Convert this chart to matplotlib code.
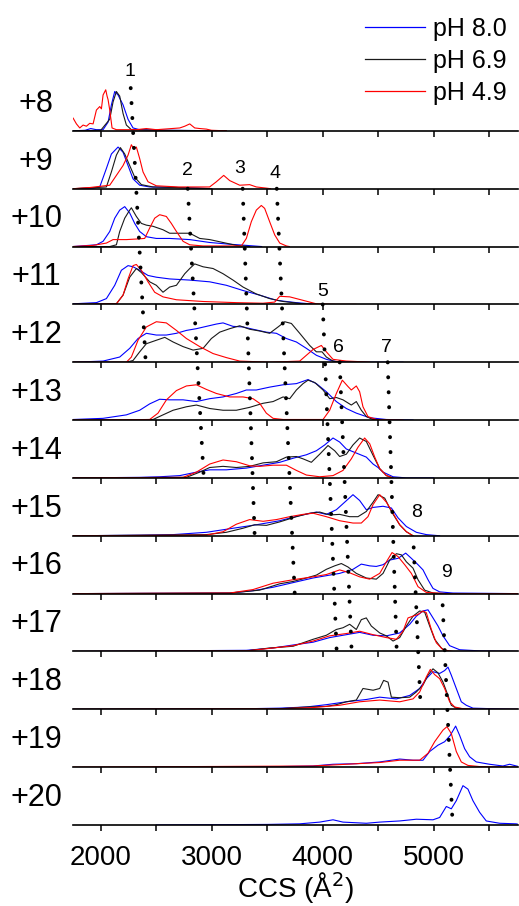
import matplotlib
matplotlib.use("Agg")
import matplotlib.pyplot as plt
from matplotlib.lines import Line2D
from matplotlib.patches import ConnectionPatch
from matplotlib.ticker import MultipleLocator

plt.rcParams["font.family"] = ["Liberation Sans", "DejaVu Sans"]

# charge states, top to bottom
charges = [8, 9, 10, 11, 12, 13, 14, 15, 16, 17, 18, 19, 20]
series_names = ["pH 8.0", "pH 6.9", "pH 4.9"]
series_colors = ["#0000ff", "#1a1a1a", "#ff0000"]

# traces as (CCS, relative intensity)
z8_blue = [(1750, 0), (1860, 0.01), (1910, 0.04), (1960, 0.02), (2021, 0.02), (2066, 0.15), (2096, 0.45),
           (2126, 0.68), (2156, 0.62), (2201, 0.45), (2246, 0.2), (2291, 0.05), (2350, 0.02), (2600, 0.01), (3130, 0)]
z8_black = [(1750, 0), (2000, 0.01), (2081, 0.2), (2111, 0.5), (2141, 0.68), (2171, 0.6), (2201, 0.3),
            (2231, 0.1), (2276, 0.02), (2500, 0.01), (3130, 0)]
z8_red = [(1751, 0.22), (1781, 0.12), (1811, 0.05), (1841, 0.1), (1871, 0.08), (1901, 0.13), (1931, 0.12),
          (1961, 0.36), (1991, 0.42), (2006, 0.38), (2021, 0.62), (2045, 0.71), (2057, 0.6), (2066, 0.54),
          (2081, 0.36), (2102, 0.05), (2141, 0.02), (2321, 0.02), (2411, 0.04), (2501, 0.02), (2712, 0.05),
          (2757, 0.08), (2802, 0.12), (2847, 0.05), (2892, 0.04), (2952, 0.03), (2997, 0.01), (3132, 0)]

z9_blue = [(1750, 0), (1931, 0.01), (1991, 0.03), (2051, 0.35), (2096, 0.6), (2156, 0.72), (2201, 0.63),
           (2246, 0.4), (2291, 0.17), (2351, 0.06), (2441, 0.03), (2700, 0.02), (3000, 0)]
z9_black = [(1750, 0), (2051, 0.03), (2096, 0.29), (2141, 0.58), (2177, 0.71), (2216, 0.6), (2261, 0.4),
            (2306, 0.2), (2366, 0.07), (2471, 0.03), (2700, 0.02), (3000, 0)]
z9_red = [(1750, 0), (1901, 0.02), (2081, 0.06), (2141, 0.23), (2201, 0.4), (2246, 0.58), (2276, 0.76),
          (2297, 0.69), (2321, 0.72), (2351, 0.52), (2381, 0.29), (2426, 0.12), (2501, 0.05), (2700, 0.03),
          (2981, 0.03), (3042, 0.12), (3108, 0.23), (3162, 0.14), (3252, 0.06), (3342, 0.07), (3402, 0.03),
          (3492, 0.01), (3530, 0)]

z10_blue = [(1751, 0), (1961, 0.03), (2021, 0.09), (2081, 0.26), (2126, 0.49), (2171, 0.63), (2216, 0.69),
            (2261, 0.58), (2306, 0.4), (2351, 0.26), (2411, 0.17), (2501, 0.14), (2621, 0.14), (2802, 0.12),
            (2982, 0.07), (3162, 0.04), (3312, 0.02), (3450, 0)]
z10_black = [(1750, 0), (2081, 0), (2141, 0.03), (2171, 0.26), (2216, 0.49), (2261, 0.63), (2276, 0.67),
             (2321, 0.52), (2366, 0.4), (2411, 0.37), (2471, 0.35), (2561, 0.29), (2621, 0.23), (2712, 0.23),
             (2802, 0.23), (2892, 0.14), (2982, 0.12), (3102, 0.07), (3222, 0.02), (3342, 0)]
z10_red = [(1751, 0), (1931, 0.02), (2051, 0.06), (2111, 0.12), (2231, 0.12), (2321, 0.13), (2396, 0.14),
           (2441, 0.32), (2486, 0.49), (2531, 0.55), (2591, 0.52), (2636, 0.4), (2682, 0.26), (2742, 0.09),
           (2802, 0.03), (2922, 0.01), (3267, 0.01), (3312, 0.14), (3357, 0.43), (3402, 0.63), (3447, 0.71),
           (3477, 0.66), (3522, 0.43), (3568, 0.2), (3613, 0.06), (3673, 0.01), (3700, 0)]

z11_blue = [(1751, 0.01), (1961, 0.03), (2051, 0.1), (2126, 0.33), (2186, 0.59), (2246, 0.67), (2291, 0.65),
            (2351, 0.59), (2426, 0.5), (2501, 0.47), (2621, 0.44), (2802, 0.42), (2982, 0.39), (3132, 0.33),
            (3282, 0.24), (3432, 0.16), (3583, 0.07), (3763, 0.03), (3943, 0)]
z11_black = [(1750, 0), (2141, 0.01), (2201, 0.16), (2261, 0.47), (2321, 0.62), (2366, 0.55), (2441, 0.39),
             (2501, 0.33), (2561, 0.21), (2621, 0.3), (2682, 0.33), (2757, 0.53), (2802, 0.62), (2847, 0.7),
             (2922, 0.65), (3012, 0.62), (3102, 0.53), (3192, 0.42), (3282, 0.3), (3402, 0.18), (3522, 0.1),
             (3643, 0.05), (3823, 0.01), (3900, 0)]
z11_red = [(1750, 0), (2141, 0.01), (2201, 0.16), (2246, 0.44), (2291, 0.67), (2321, 0.69), (2366, 0.59),
           (2426, 0.39), (2486, 0.21), (2561, 0.13), (2682, 0.08), (2922, 0.05), (3222, 0.03), (3462, 0.02),
           (3568, 0.04), (3613, 0.14), (3703, 0.13), (3823, 0.07), (3943, 0.01), (4123, 0), (4300, 0)]

z12_blue = [(1751, 0), (2021, 0.02), (2171, 0.09), (2261, 0.24), (2336, 0.41), (2411, 0.5), (2501, 0.47),
            (2591, 0.47), (2682, 0.5), (2772, 0.55), (2862, 0.58), (2952, 0.62), (3042, 0.66), (3102, 0.68),
            (3192, 0.62), (3282, 0.61), (3372, 0.57), (3492, 0.52), (3583, 0.5), (3673, 0.41), (3763, 0.35),
            (3853, 0.24), (3943, 0.12), (4033, 0.05), (4123, 0.01), (4424, 0), (4724, 0)]
z12_black = [(1750, 0), (2231, 0), (2291, 0.03), (2351, 0.18), (2411, 0.32), (2501, 0.38), (2577, 0.43),
             (2652, 0.35), (2742, 0.27), (2832, 0.21), (2922, 0.24), (2997, 0.41), (3072, 0.52), (3162, 0.58),
             (3252, 0.63), (3342, 0.57), (3432, 0.54), (3522, 0.5), (3598, 0.61), (3658, 0.7), (3718, 0.67),
             (3793, 0.5), (3883, 0.29), (3943, 0.18), (3994, 0.18), (4033, 0.09), (4093, 0.02), (4183, 0)]
z12_red = [(1750, 0), (2231, 0), (2276, 0.09), (2336, 0.38), (2411, 0.61), (2501, 0.7), (2591, 0.68),
           (2682, 0.55), (2772, 0.41), (2892, 0.27), (3012, 0.15), (3132, 0.08), (3252, 0.02), (3523, 0),
           (3793, 0.02), (3853, 0.12), (3913, 0.22), (3988, 0.29), (4033, 0.18), (4093, 0.05), (4213, 0.02),
           (4333, 0.01), (4424, 0)]

z13_blue = [(1751, 0.01), (2021, 0.03), (2231, 0.09), (2351, 0.17), (2441, 0.28), (2531, 0.36), (2622, 0.35),
            (2742, 0.35), (2862, 0.32), (2982, 0.37), (3102, 0.4), (3222, 0.46), (3312, 0.52), (3402, 0.52),
            (3523, 0.57), (3643, 0.61), (3763, 0.63), (3868, 0.7), (3943, 0.63), (4033, 0.49), (4123, 0.32),
            (4213, 0.2), (4303, 0.12), (4424, 0.04), (4574, 0.01), (4814, 0)]
z13_black = [(1750, 0), (2471, 0.01), (2561, 0.09), (2652, 0.17), (2772, 0.23), (2862, 0.26), (2982, 0.2),
             (3102, 0.17), (3222, 0.17), (3342, 0.22), (3462, 0.29), (3553, 0.32), (3643, 0.4), (3703, 0.37),
             (3763, 0.52), (3823, 0.63), (3868, 0.69), (3928, 0.65), (4003, 0.52), (4063, 0.37), (4123, 0.39),
             (4183, 0.35), (4258, 0.26), (4303, 0.32), (4348, 0.17), (4394, 0.06), (4454, 0.01), (4574, 0)]
z13_red = [(1750, 0), (2441, 0.01), (2516, 0.12), (2592, 0.35), (2682, 0.51), (2772, 0.59), (2862, 0.61),
           (2952, 0.53), (3042, 0.46), (3162, 0.4), (3282, 0.4), (3372, 0.37), (3432, 0.29), (3492, 0.12),
           (3553, 0.03), (3643, 0.01), (4003, 0.01), (4063, 0.17), (4123, 0.46), (4177, 0.69), (4228, 0.58),
           (4258, 0.52), (4303, 0.59), (4333, 0.49), (4363, 0.23), (4408, 0.06), (4484, 0.01), (4724, 0)]

z14_blue = [(1750, 0), (2351, 0.01), (2532, 0.02), (2712, 0.04), (2862, 0.1), (2982, 0.14), (3132, 0.14),
            (3312, 0.17), (3463, 0.22), (3613, 0.27), (3733, 0.34), (3853, 0.4), (3943, 0.47), (4018, 0.57),
            (4093, 0.69), (4153, 0.62), (4213, 0.5), (4303, 0.43), (4393, 0.36), (4454, 0.24), (4499, 0.18),
            (4544, 0.1), (4634, 0.02), (4754, 0), (5000, 0)]
z14_black = [(1750, 0), (2772, 0.01), (2892, 0.1), (2982, 0.18), (3102, 0.2), (3222, 0.18), (3342, 0.2),
             (3463, 0.26), (3583, 0.28), (3673, 0.36), (3763, 0.37), (3823, 0.33), (3898, 0.27), (3973, 0.41),
             (4048, 0.56), (4108, 0.47), (4153, 0.37), (4213, 0.41), (4273, 0.57), (4333, 0.69), (4393, 0.63),
             (4454, 0.39), (4514, 0.16), (4574, 0.04), (4634, 0)]
z14_red = [(1750, 0), (2742, 0.01), (2862, 0.1), (2982, 0.24), (3102, 0.31), (3222, 0.28), (3342, 0.21),
           (3432, 0.2), (3553, 0.22), (3673, 0.22), (3763, 0.13), (3853, 0.05), (3973, 0.02), (4093, 0.04),
           (4183, 0.13), (4258, 0.33), (4318, 0.53), (4378, 0.69), (4424, 0.59), (4469, 0.36), (4514, 0.16),
           (4574, 0.04), (4634, 0)]

z15_blue = [(1750, 0), (2351, 0.01), (2652, 0.02), (2952, 0.06), (3192, 0.13), (3402, 0.19), (3613, 0.26),
            (3793, 0.35), (3943, 0.41), (4033, 0.37), (4123, 0.45), (4198, 0.58), (4273, 0.71), (4333, 0.61),
            (4393, 0.45), (4454, 0.49), (4544, 0.51), (4619, 0.48), (4679, 0.31), (4754, 0.16), (4844, 0.06),
            (4934, 0.02), (5054, 0)]
z15_black = [(1750, 0), (2952, 0.02), (3132, 0.06), (3282, 0.13), (3387, 0.19), (3493, 0.18), (3613, 0.24),
             (3763, 0.33), (3883, 0.39), (3973, 0.41), (4063, 0.36), (4153, 0.37), (4243, 0.33), (4318, 0.33),
             (4393, 0.42), (4454, 0.58), (4499, 0.71), (4559, 0.65), (4619, 0.42), (4694, 0.19), (4754, 0.07),
             (4814, 0)]
z15_red = [(1750, 0), (2952, 0.01), (3102, 0.07), (3222, 0.2), (3342, 0.28), (3463, 0.25), (3583, 0.28),
           (3703, 0.33), (3823, 0.37), (3913, 0.39), (4033, 0.33), (4153, 0.26), (4273, 0.22), (4348, 0.22),
           (4408, 0.33), (4454, 0.54), (4514, 0.71), (4574, 0.58), (4634, 0.39), (4694, 0.19), (4754, 0.07),
           (4814, 0)]

z16_blue = [(1750, 0), (3162, 0.01), (3372, 0.05), (3553, 0.11), (3733, 0.19), (3913, 0.27), (4033, 0.31),
            (4153, 0.35), (4273, 0.42), (4348, 0.51), (4423, 0.48), (4483, 0.47), (4544, 0.5), (4604, 0.58),
            (4679, 0.61), (4748, 0.7), (4799, 0.61), (4859, 0.5), (4904, 0.41), (4949, 0.24), (4994, 0.09),
            (5054, 0.03), (5174, 0.01), (5766, 0)]
z16_black = [(1750, 0), (3162, 0.01), (3432, 0.06), (3613, 0.17), (3733, 0.21), (3853, 0.27), (3943, 0.32),
             (4033, 0.42), (4108, 0.48), (4168, 0.52), (4228, 0.46), (4303, 0.35), (4393, 0.27), (4483, 0.25),
             (4544, 0.35), (4604, 0.58), (4664, 0.69), (4709, 0.67), (4754, 0.55), (4814, 0.44), (4859, 0.24),
             (4919, 0.06), (4994, 0.01), (5100, 0)]
z16_red = [(1750, 0), (3162, 0.01), (3372, 0.07), (3553, 0.18), (3733, 0.24), (3913, 0.29), (4033, 0.33),
           (4153, 0.41), (4243, 0.36), (4333, 0.29), (4423, 0.25), (4514, 0.35), (4574, 0.55), (4625, 0.71),
           (4679, 0.64), (4739, 0.5), (4799, 0.35), (4859, 0.12), (4934, 0.02), (5114, 0), (5766, 0)]

z17_blue = [(1750, 0), (3312, 0.02), (3553, 0.06), (3763, 0.12), (3913, 0.16), (4063, 0.24), (4213, 0.29),
            (4333, 0.33), (4454, 0.28), (4574, 0.27), (4694, 0.32), (4784, 0.47), (4844, 0.61), (4904, 0.7),
            (4949, 0.72), (4994, 0.58), (5039, 0.44), (5084, 0.27), (5144, 0.1), (5234, 0.03), (5414, 0.01),
            (5766, 0)]
z17_black = [(1750, 0), (3312, 0.01), (3522, 0.06), (3733, 0.09), (3913, 0.21), (4033, 0.28), (4123, 0.38),
             (4183, 0.41), (4243, 0.47), (4303, 0.38), (4348, 0.55), (4393, 0.58), (4438, 0.44), (4514, 0.32),
             (4574, 0.27), (4634, 0.18), (4694, 0.24), (4754, 0.44), (4814, 0.61), (4874, 0.7), (4919, 0.68),
             (4964, 0.44), (5009, 0.21), (5069, 0.06), (5114, 0)]
z17_red = [(1750, 0), (3312, 0.01), (3553, 0.06), (3733, 0.1), (3913, 0.18), (4063, 0.27), (4213, 0.31),
           (4333, 0.35), (4454, 0.29), (4574, 0.24), (4664, 0.21), (4724, 0.35), (4769, 0.58), (4814, 0.61),
           (4859, 0.64), (4904, 0.7), (4934, 0.67), (4979, 0.38), (5024, 0.15), (5084, 0.03), (5174, 0), (5766, 0)]

z18_blue = [(1750, 0), (3312, 0.01), (3613, 0.02), (3853, 0.04), (4033, 0.08), (4213, 0.13), (4394, 0.17),
            (4514, 0.21), (4664, 0.18), (4784, 0.24), (4874, 0.36), (4934, 0.53), (4994, 0.65), (5054, 0.62),
            (5099, 0.67), (5129, 0.73), (5159, 0.59), (5204, 0.36), (5249, 0.13), (5294, 0.07), (5354, 0.02),
            (5534, 0.01), (5766, 0)]
z18_black = [(1750, 0), (3613, 0.01), (3853, 0.04), (4033, 0.05), (4123, 0.08), (4213, 0.13), (4303, 0.16),
             (4363, 0.36), (4454, 0.33), (4514, 0.36), (4549, 0.5), (4589, 0.47), (4619, 0.21), (4694, 0.2),
             (4784, 0.21), (4844, 0.3), (4904, 0.42), (4949, 0.59), (4994, 0.7), (5039, 0.63), (5084, 0.47),
             (5129, 0.24), (5159, 0.07), (5204, 0.02), (5324, 0)]
z18_red = [(1750, 0), (3613, 0.01), (3913, 0.03), (4153, 0.07), (4333, 0.13), (4514, 0.16), (4694, 0.13),
           (4814, 0.18), (4874, 0.3), (4934, 0.56), (4970, 0.69), (5009, 0.6), (5054, 0.53), (5099, 0.36),
           (5144, 0.13), (5189, 0.04), (5264, 0.01), (5414, 0), (5766, 0)]

z19_blue = [(2500, 0), (3613, 0.01), (3913, 0.02), (4093, 0.05), (4303, 0.06), (4514, 0.09), (4694, 0.14),
            (4814, 0.12), (4904, 0.12), (4964, 0.27), (5039, 0.38), (5099, 0.44), (5150, 0.55), (5198, 0.71),
            (5234, 0.55), (5279, 0.32), (5324, 0.18), (5384, 0.09), (5504, 0.05), (5624, 0.02), (5684, 0.05),
            (5766, 0.01)]
z19_black = []
z19_red = [(1750, 0), (3913, 0.02), (4213, 0.05), (4514, 0.08), (4694, 0.12), (4874, 0.12), (4949, 0.24),
           (5009, 0.44), (5084, 0.64), (5120, 0.7), (5159, 0.58), (5204, 0.27), (5249, 0.09), (5309, 0.03),
           (5414, 0.01), (5766, 0)]

z20_blue = [(2500, 0), (3500, 0.01), (3793, 0.02), (3973, 0.05), (4093, 0.09), (4183, 0.05), (4393, 0.03),
            (4513, 0.05), (4694, 0.07), (4844, 0.1), (4994, 0.09), (5054, 0.13), (5114, 0.32), (5159, 0.28),
            (5204, 0.42), (5264, 0.68), (5309, 0.62), (5354, 0.42), (5414, 0.22), (5474, 0.07), (5594, 0.03),
            (5744, 0.02), (5766, 0.01)]
z20_black = []
z20_red = []

# dotted guide lines: label, top charge, top height, top CCS, bottom charge, bottom CCS
guide_labels = ["1", "2", "3", "4", "5", "6", "7", "8", "9"]
guide_top_charge = [8, 9, 9, 9, 11, 12, 12, 16, 17]
guide_top_y = [0.74, 0.0, 0.0, 0.0, 0.0, 0.0, 0.0, 0.8, 0.8]
guide_top_ccs = [2270, 2784, 3279, 3586, 4000, 4153, 4586, 4820, 5081]
guide_bot_charge = [12, 14, 15, 16, 17, 17, 17, 18, 20]
guide_bot_ccs = [2405, 2928, 3387, 3748, 4126, 4261, 4667, 4883, 5171]
# where the number sits: charge panel, CCS, height
label_charge = [8, 9, 9, 9, 11, 12, 12, 15, 16]
label_ccs = [2261, 2784, 3252, 3568, 4000, 4144, 4577, 4847, 5117]
label_y = [1.02, 0.31, 0.35, 0.26, 0.22, 0.26, 0.26, 0.40, 0.36]

traces = {
    8: (z8_blue, z8_black, z8_red), 9: (z9_blue, z9_black, z9_red), 10: (z10_blue, z10_black, z10_red),
    11: (z11_blue, z11_black, z11_red), 12: (z12_blue, z12_black, z12_red), 13: (z13_blue, z13_black, z13_red),
    14: (z14_blue, z14_black, z14_red), 15: (z15_blue, z15_black, z15_red), 16: (z16_blue, z16_black, z16_red),
    17: (z17_blue, z17_black, z17_red), 18: (z18_blue, z18_black, z18_red), 19: (z19_blue, z19_black, z19_red),
    20: (z20_blue, z20_black, z20_red),
}

fig = plt.figure(figsize=(5.19, 9.06), dpi=100)
axes = fig.subplots(len(charges), 1, sharex=True)
fig.subplots_adjust(left=73 / 519, right=518 / 519, top=1 - 73 / 906, bottom=1 - 825 / 906, hspace=0)
ax_of = dict(zip(charges, axes))

for z, ax in zip(charges, axes):
    ax.set_facecolor("none")
    for trace, color in zip(traces[z], series_colors):
        if trace:
            xs = [p[0] for p in trace]
            ys = [p[1] for p in trace]
            ax.plot(xs, ys, color=color, lw=0.8)
    ax.set_xlim(1750, 5760)
    ax.set_ylim(0, 1)
    ax.set_yticks([])
    for side in ["top", "left", "right"]:
        ax.spines[side].set_visible(False)
    ax.spines["bottom"].set_linewidth(1.2)
    ax.xaxis.set_major_locator(MultipleLocator(1000))
    ax.xaxis.set_minor_locator(MultipleLocator(500))
    ax.tick_params(axis="x", which="both", direction="out", length=4.5, width=1.1,
                   labelsize=20, pad=10, labelbottom=(z == charges[-1]))
    ax.text(-0.083, 0.47, f"+{z}", transform=ax.transAxes, ha="center", va="center", fontsize=22)

axes[-1].set_xlabel("CCS (Å$^2$)", fontsize=20, labelpad=-1)

for i, lab in enumerate(guide_labels):
    a_top = ax_of[guide_top_charge[i]]
    a_bot = ax_of[guide_bot_charge[i]]
    con = ConnectionPatch(xyA=(guide_top_ccs[i], guide_top_y[i]), coordsA=a_top.get_xaxis_transform(),
                          xyB=(guide_bot_ccs[i], 0), coordsB=a_bot.get_xaxis_transform(),
                          color="black", lw=2.8, linestyle=(0, (0.05, 3.8)), capstyle="round",
                          shrinkA=0, shrinkB=0)
    fig.add_artist(con)
    a_lab = ax_of[label_charge[i]]
    a_lab.text(label_ccs[i], label_y[i], lab, transform=a_lab.get_xaxis_transform(),
               ha="center", va="center", fontsize=14, clip_on=False)

handles = [Line2D([], [], color=c, lw=0.9) for c in series_colors]
fig.legend(handles, series_names, loc="upper right", bbox_to_anchor=(517 / 519, 1 - 7 / 906), frameon=False,
           fontsize=18, handlelength=2.4, handletextpad=0.35, labelspacing=0.32, borderaxespad=0)

fig.savefig("out.png", dpi=100)
